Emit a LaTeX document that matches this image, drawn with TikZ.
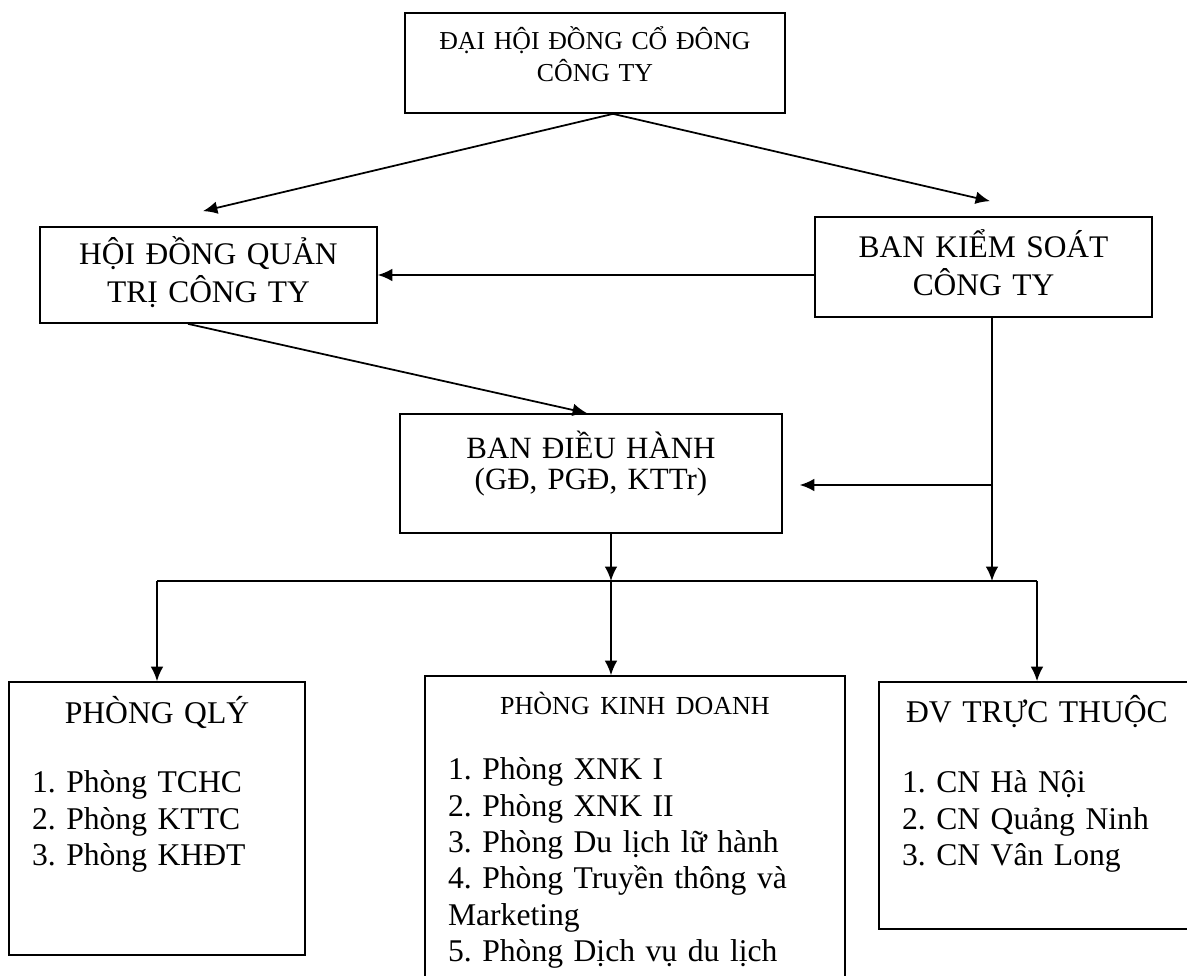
\documentclass[tikz,border=0pt]{standalone}
\usepackage{fontspec}
\setmainfont{Liberation Serif}
\usetikzlibrary{arrows.meta}

\begin{document}
\begin{tikzpicture}[line width=1pt, x=0.02cm, y=-0.02cm,
  box/.style={draw, inner sep=0pt, align=center},
  list/.style={draw, inner ysep=0pt, inner xsep=0.46cm, align=left, font=\fontsize{18}{20.7}\selectfont\frenchspacing},
  arr/.style={-{Latex[length=8.2pt,width=7.2pt]}}]
\path[use as bounding box, fill=white] (0,0) rectangle (1187,976);

\node[box, text width=7.6cm, text height=0.74cm, text depth=1.26cm, font=\fontsize{14.7}{18.1}\selectfont] (dhcd) at (595,63) {ĐẠI HỘI ĐỒNG CỔ ĐÔNG\\CÔNG TY};
\node[box, text width=6.74cm, text height=0.76cm, text depth=1.16cm, font=\fontsize{17.9}{21.5}\selectfont] (hdqt) at (208.5,275) {HỘI ĐỒNG QUẢN\\TRỊ CÔNG TY};
\node[box, text width=6.74cm, text height=0.82cm, text depth=1.18cm, font=\fontsize{17.9}{21.5}\selectfont] (bks) at (983.5,267) {BAN KIỂM SOÁT\\CÔNG TY};
\node[box, text width=7.64cm, text height=0.88cm, text depth=1.5cm, font=\fontsize{17.6}{18.1}\selectfont] (bdh) at (591,473.5) {BAN ĐIỀU HÀNH\\(GĐ, PGĐ, KTTr)};

\node[list, text width=5cm, text height=0.82cm, text depth=4.64cm] (qly) at (157,818.5)
  {\makebox[\linewidth]{PHÒNG QLÝ}\\[19pt]1. Phòng TCHC\\2. Phòng KTTC\\3. Phòng KHĐT};
\node[list, text width=7.48cm, text height=0.76cm, text depth=5.62cm] (kd) at (635,835.5)
  {\makebox[\linewidth]{\fontsize{14.8}{18}\selectfont PHÒNG KINH DOANH}\\[16.7pt]1. Phòng XNK I\\2. Phòng XNK II\\3. Phòng Du lịch lữ hành\\4. Phòng Truyền thông và\\Marketing\\5. Phòng Dịch vụ du lịch};
\node[list, text width=5.4cm, text height=0.8cm, text depth=4.14cm] (dv) at (1037,805.5)
  {\makebox[\linewidth]{ĐV TRỰC THUỘC}\\[19.5pt]1. CN Hà Nội\\2. CN Quảng Ninh\\3. CN Vân Long};

\coordinate (dhcd-out) at ([xshift=0.36cm]dhcd.south);
\coordinate (hdqt-in) at ([xshift=-0.11cm,yshift=0.3cm]hdqt.north);
\coordinate (bks-in) at ([xshift=0.13cm,yshift=0.3cm]bks.north);
\coordinate (hdqt-out) at ([xshift=-0.41cm]hdqt.south);
\coordinate (bdh-in) at ([xshift=-0.08cm]bdh.north);
\coordinate (bks-out) at ([xshift=0.17cm]bks.south);
\coordinate (bdh-side) at ([xshift=0.34cm,yshift=-0.23cm]bdh.east);
\coordinate (bdh-out) at ([xshift=0.4cm]bdh.south);
\coordinate (bus) at (0,581);

\draw[arr] (dhcd-out) -- (hdqt-in);
\draw[arr] (dhcd-out) -- (bks-in);
\draw[arr] (bks.west |- hdqt.east) -- (hdqt.east);
\draw[arr] (hdqt-out) -- (bdh-in);
\draw[arr] (bks-out) -- (bks-out |- bus);
\draw[arr] (bks-out |- bdh-side) -- (bdh-side);
\draw[arr] (bdh-out) -- (bdh-out |- bus);
\draw (qly.north |- bus) -- (dv.north |- bus);
\draw[arr] (qly.north |- bus) -- (qly.north);
\draw[arr] (bdh-out |- bus) -- (bdh-out |- kd.north);
\draw[arr] (dv.north |- bus) -- (dv.north);
\end{tikzpicture}
\end{document}
